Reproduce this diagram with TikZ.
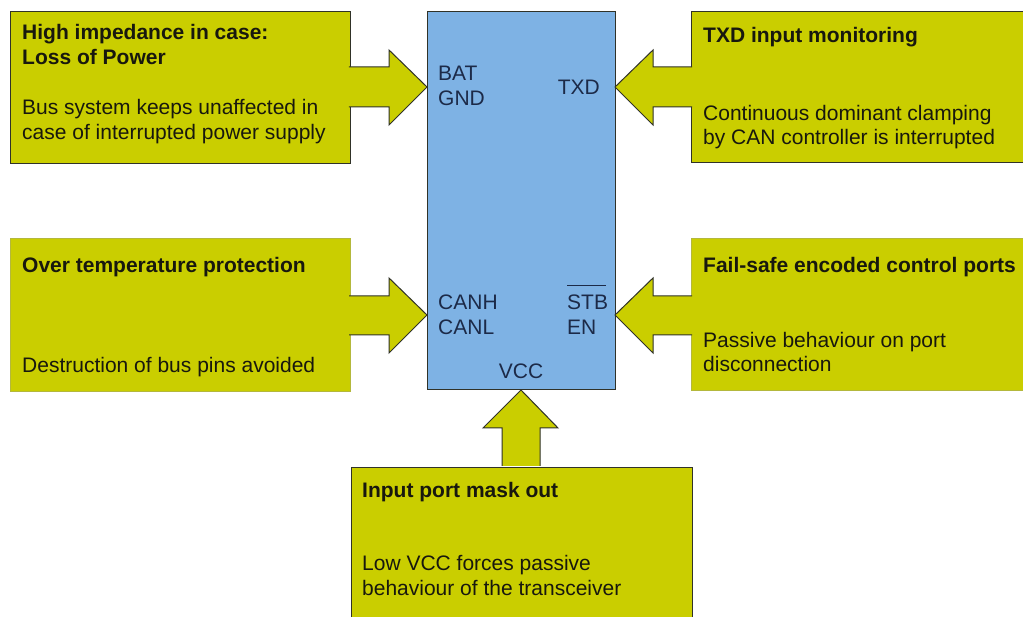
\documentclass[tikz,border=0pt]{standalone}
\usepackage{fontspec}
\setmainfont{Liberation Sans}
\usetikzlibrary{calc}
\definecolor{ygreen}{RGB}{202,206,0}
\definecolor{chipblue}{RGB}{126,178,228}
\definecolor{navy}{RGB}{28,42,72}
\definecolor{ink}{RGB}{24,24,14}
\definecolor{edge}{RGB}{48,50,40}
\definecolor{softedge}{RGB}{180,184,60}
\begin{document}
\begin{tikzpicture}[x=1pt,y=-1pt,
  infobox/.style={fill=ygreen, draw=edge, line width=1pt, anchor=north west, inner sep=0pt, outer sep=0pt},
  softbox/.style={infobox, draw=softedge, line width=0.6pt},
  chipbox/.style={fill=chipblue, draw=edge, line width=1pt, anchor=north west, inner sep=0pt, outer sep=0pt},
  ttl/.style={anchor=base west, inner sep=0pt, text=ink, font=\fontsize{21}{25}\selectfont\bfseries},
  txt/.style={anchor=base west, inner sep=0pt, text=ink, font=\fontsize{21}{25}\selectfont},
  pin/.style={anchor=base west, inner sep=0pt, text=navy, font=\fontsize{21}{25}\selectfont},
  blockarrow/.style={draw=edge, line width=1pt, line join=miter, fill=ygreen}
]
\useasboundingbox (0,0) rectangle (1023,617);
\clip (0,0) rectangle (1023,617);
\fill[white] (0,0) rectangle (1023,617);

% boxes
\node[infobox, minimum width=340pt, minimum height=152pt] (tl) at (10,12) {};
\node[infobox, minimum width=345pt, minimum height=151pt] (tr) at (691,12) {};
\node[softbox, minimum width=340pt, minimum height=153pt] (ml) at (10,238) {};
\node[softbox, minimum width=345pt, minimum height=152pt] (mr) at (691,238) {};
\node[infobox, minimum width=341pt, minimum height=170pt] (bt) at (351,467) {};
\node[chipbox, minimum width=188pt, minimum height=378pt] (chip) at (427,12) {};

% block arrows
\draw[blockarrow] ([xshift=-1.2pt]tl.north east |- 0,67) -- (389,67) -- (389,50)
  -- (chip.north west |- 0,87) -- (389,125) -- (389,107) -- ([xshift=-1.2pt]tl.north east |- 0,107);
\draw[blockarrow] ([xshift=1.2pt]tr.north west |- 0,67) -- (653,67) -- (653,50)
  -- (chip.north east |- 0,87) -- (653,125) -- (653,107) -- ([xshift=1.2pt]tr.north west |- 0,107);
\draw[blockarrow] ([xshift=-1pt]ml.north east |- 0,296) -- (389,296) -- (389,278)
  -- (chip.north west |- 0,315) -- (389,353) -- (389,335) -- ([xshift=-1pt]ml.north east |- 0,335);
\draw[blockarrow] ([xshift=1pt]mr.north west |- 0,296) -- (653,296) -- (653,278)
  -- (chip.north east |- 0,315) -- (653,353) -- (653,335) -- ([xshift=1pt]mr.north west |- 0,335);
\draw[blockarrow] ([yshift=1.2pt]502,0 |- bt.north) -- (502,428) -- (483,428)
  -- (chip.south) -- (558,428) -- (540,428) -- ([yshift=1.2pt]540,0 |- bt.north);

% texts in the boxes
\node[ttl] (tl1) at (22,40) {High impedance in case:};
\node[ttl] (tl2) at (22,65) {Loss of Power};
\node[txt] (tl3) at (22,115) {Bus system keeps unaffected in};
\node[txt] (tl4) at (22,140) {case of interrupted power supply};

\node[ttl] (tr1) at (703,43) {TXD input monitoring};
\node[txt] (tr2) at (703,121) {Continuous dominant clamping};
\node[txt] (tr3) at (703,145) {by CAN controller is interrupted};

\node[ttl] (ml1) at (22,273) {Over temperature protection};
\node[txt] (ml2) at (22,373) {Destruction of bus pins avoided};

\node[ttl] (mr1) at (703,273) {Fail-safe encoded control ports};
\node[txt] (mr2) at (703,348) {Passive behaviour on port};
\node[txt] (mr3) at (703,372) {disconnection};

\node[ttl] (bt1) at (362,497) {Input port mask out};
\node[txt] (bt2) at (362,570) {Low VCC forces passive};
\node[txt] (bt3) at (362,595) {behaviour of the transceiver};

% pins
\node[pin] (bat) at (438,81) {BAT};
\node[pin] (gnd) at (438,106) {GND};
\node[pin, anchor=base east] (txd) at (600,95) {TXD};
\node[pin] (canh) at (438,310) {CANH};
\node[pin] (canl) at (438,335) {CANL};
\node[pin] (stb) at (567,310) {\rlap{\rule[23.5pt]{39pt}{1.3pt}}STB};
\node[pin] (en) at (567,335) {EN};
\node[pin, anchor=base] (vcc) at (521,379) {VCC};
\end{tikzpicture}
\end{document}
